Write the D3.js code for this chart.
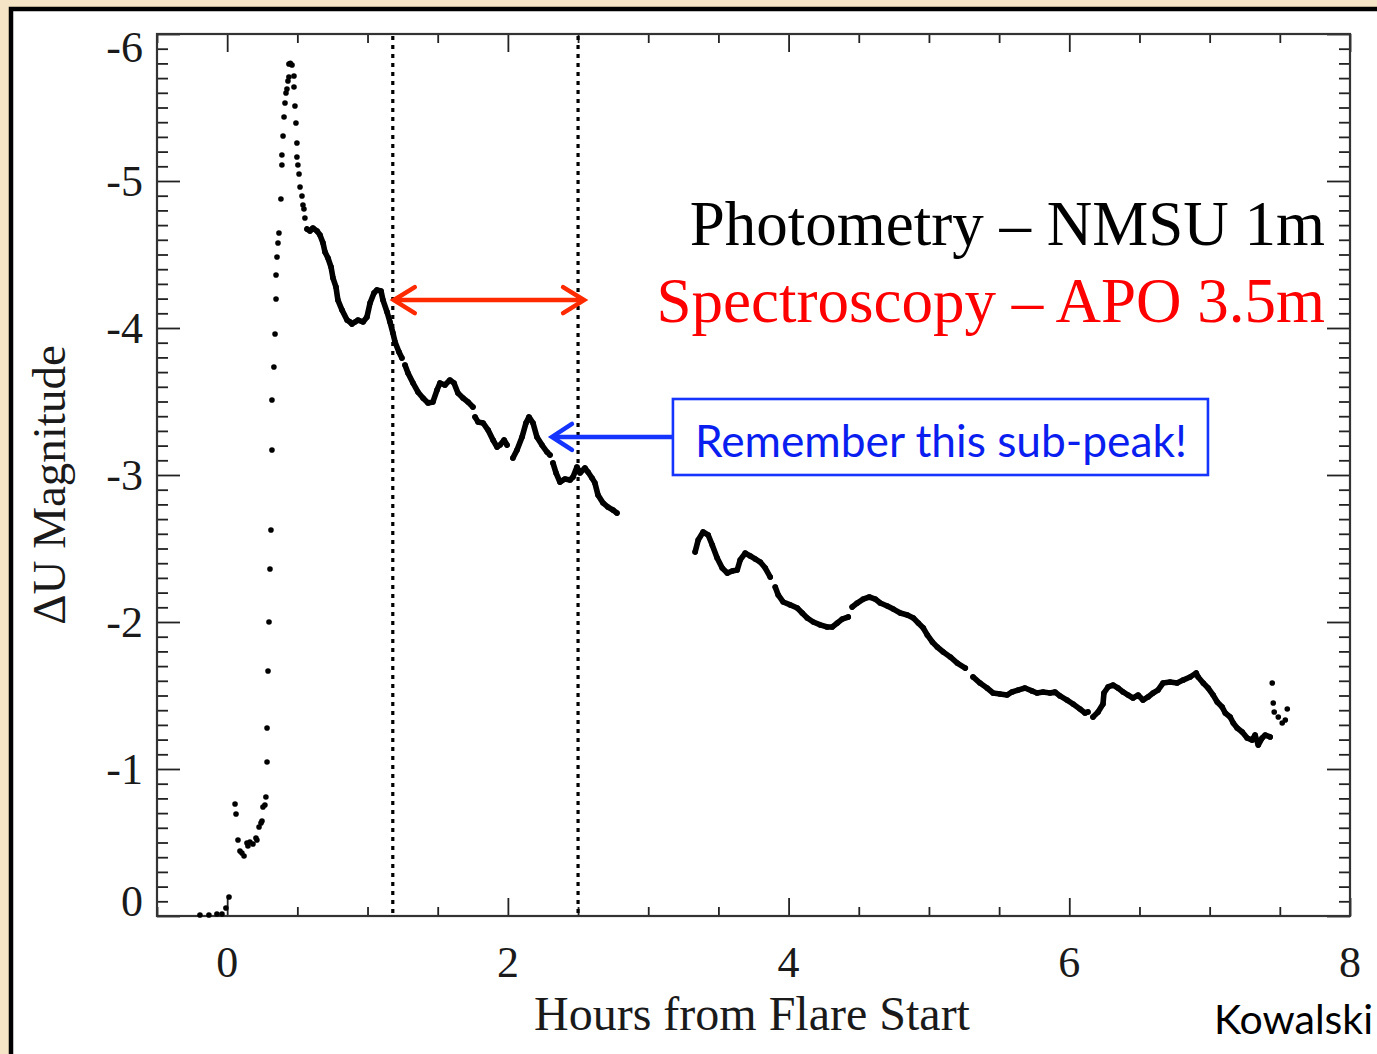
<!DOCTYPE html>
<html>
<head>
<meta charset="utf-8">
<script src="https://cdn.jsdelivr.net/npm/d3@7"></script>
<style>
  html, body { margin: 0; padding: 0; background: #f5e5c6; }
  svg { display: block; }
</style>
</head>
<body>
<svg id="chart" width="1377" height="1054"></svg>
<script>
// ---- Light curve: U-band magnitude change vs. hours from flare start ----
// Each array is [hours, deltaU]; separate arrays are separate observing runs / gaps.
const preFlare = [[-0.194,-0.007],[-0.130,-0.007],[-0.073,-0.014],[-0.037,-0.014],[-0.009,-0.054],[0.013,-0.129]];

const impulsivePhase = [
  [0.056,-0.762],[0.063,-0.694],[0.077,-0.517],[0.091,-0.442],[0.105,-0.429],[0.120,-0.408],
  [0.141,-0.497],[0.148,-0.476],[0.162,-0.503],[0.184,-0.490],[0.205,-0.531],[0.212,-0.517],
  [0.227,-0.605],[0.241,-0.633],[0.248,-0.646],[0.255,-0.741],[0.269,-0.755],[0.276,-0.810],
  [0.284,-1.048],[0.284,-1.279],[0.291,-1.667],[0.298,-2.000],[0.305,-2.361],[0.312,-2.626],
  [0.319,-3.170],[0.319,-3.510],[0.333,-3.735],[0.341,-3.959],[0.348,-4.197],[0.348,-4.361],
  [0.355,-4.483],[0.362,-4.578],[0.369,-4.646],[0.383,-4.878],[0.390,-5.109],[0.390,-5.177],
  [0.398,-5.306],[0.405,-5.435],[0.412,-5.531],[0.419,-5.599],[0.426,-5.626],[0.433,-5.680],
  [0.440,-5.707],[0.440,-5.796],[0.450,-5.800],[0.462,-5.789],[0.476,-5.714],[0.476,-5.639],
  [0.483,-5.510],[0.490,-5.395],[0.497,-5.259],[0.497,-5.163],[0.504,-5.109],[0.512,-5.048],
  [0.519,-4.959],[0.533,-4.898],[0.540,-4.837],[0.547,-4.810],[0.554,-4.748]
];

const decay1 = [
  [0.569,-4.673],[0.590,-4.660],[0.611,-4.680],[0.640,-4.660],[0.661,-4.633],[0.683,-4.578],
  [0.697,-4.517],[0.718,-4.476],[0.740,-4.415],[0.754,-4.340],[0.775,-4.279],[0.789,-4.190],
  [0.818,-4.122],[0.854,-4.054],[0.875,-4.041],[0.889,-4.027],[0.911,-4.041],[0.932,-4.054],
  [0.968,-4.041],[0.996,-4.075],[1.018,-4.170],[1.046,-4.238],[1.067,-4.259],[1.096,-4.252],
  [1.110,-4.190],[1.139,-4.109],[1.160,-4.041],[1.181,-3.966],[1.196,-3.905],[1.224,-3.837],
  [1.245,-3.796]
];
const decay2 = [
  [1.267,-3.748],[1.288,-3.694],[1.324,-3.626],[1.359,-3.565],[1.395,-3.524],[1.431,-3.490],
  [1.466,-3.497],[1.495,-3.578],[1.516,-3.626],[1.552,-3.612],[1.587,-3.646],[1.616,-3.626],
  [1.644,-3.558],[1.680,-3.524],[1.716,-3.497],[1.751,-3.463]
];
const decay3 = [
  [1.766,-3.395],[1.787,-3.361],[1.823,-3.354],[1.859,-3.306],[1.894,-3.238],[1.923,-3.190],
  [1.944,-3.204],[1.973,-3.238],[1.994,-3.204]
];
const decay4 = [
  [2.036,-3.116],[2.065,-3.170],[2.101,-3.259],[2.129,-3.354],[2.150,-3.395],[2.179,-3.354],
  [2.207,-3.259],[2.243,-3.204],[2.279,-3.156],[2.300,-3.136]
];
const decay5 = [
  [2.321,-3.082],[2.343,-3.014],[2.371,-2.952],[2.407,-2.973],[2.443,-2.966],[2.464,-2.986],
  [2.492,-3.054],[2.514,-3.014],[2.549,-3.048],[2.571,-3.020],[2.599,-2.980],[2.620,-2.946],
  [2.642,-2.864],[2.678,-2.810],[2.713,-2.782],[2.749,-2.762],[2.777,-2.741]
];
const late1 = [
  [3.334,-2.476],[3.356,-2.558],[3.391,-2.612],[3.427,-2.592],[3.456,-2.524],[3.491,-2.435],
  [3.527,-2.367],[3.563,-2.333],[3.598,-2.347],[3.634,-2.354],[3.655,-2.422],[3.691,-2.469],
  [3.727,-2.449],[3.762,-2.429],[3.798,-2.408],[3.834,-2.367],[3.869,-2.306]
];
const late2 = [
  [3.905,-2.238],[3.926,-2.184],[3.962,-2.136],[4.012,-2.116],[4.062,-2.095],[4.097,-2.061],
  [4.133,-2.027],[4.176,-2.000],[4.226,-1.980],[4.275,-1.966],[4.311,-1.966],[4.347,-1.993],
  [4.382,-2.020],[4.425,-2.034]
];
const late3 = [
  [4.453,-2.102],[4.489,-2.129],[4.532,-2.156],[4.575,-2.170],[4.617,-2.156],[4.653,-2.129],
  [4.703,-2.109],[4.746,-2.088],[4.796,-2.061],[4.846,-2.048],[4.889,-2.027],[4.924,-1.993],
  [4.960,-1.959],[4.988,-1.912],[5.024,-1.864],[5.059,-1.830],[5.102,-1.796],[5.152,-1.762],
  [5.202,-1.721],[5.259,-1.687]
];
const late4 = [
  [5.314,-1.626],[5.364,-1.585],[5.414,-1.551],[5.457,-1.517],[5.506,-1.510],[5.556,-1.503],
  [5.592,-1.524],[5.635,-1.537],[5.684,-1.551],[5.734,-1.531],[5.770,-1.517],[5.813,-1.524],
  [5.863,-1.517],[5.898,-1.524],[5.934,-1.497],[5.984,-1.469],[6.027,-1.442],[6.076,-1.408],
  [6.112,-1.381],[6.133,-1.388]
];
const late5 = [
  [6.169,-1.354],[6.205,-1.388],[6.240,-1.442],[6.247,-1.517],[6.276,-1.558],[6.312,-1.571],
  [6.347,-1.551],[6.383,-1.524],[6.419,-1.503],[6.454,-1.483],[6.490,-1.503],[6.525,-1.469],
  [6.561,-1.490],[6.597,-1.517],[6.632,-1.537],[6.668,-1.585],[6.718,-1.592],[6.768,-1.585],
  [6.811,-1.605],[6.861,-1.626],[6.904,-1.653],[6.918,-1.626],[6.954,-1.585],[6.989,-1.551],
  [7.025,-1.503],[7.054,-1.456],[7.089,-1.422],[7.111,-1.381],[7.146,-1.354],[7.168,-1.313],
  [7.196,-1.279],[7.232,-1.252],[7.267,-1.211],[7.303,-1.197],[7.324,-1.231],[7.346,-1.163],
  [7.374,-1.211],[7.396,-1.231],[7.431,-1.218]
];
const tail = [
  [7.446,-1.585],[7.453,-1.449],[7.460,-1.388],[7.489,-1.354],[7.517,-1.313],[7.539,-1.333],[7.553,-1.408]
];

// Sparsely sampled runs are drawn as dots only; densely sampled runs as a dotted trace.
const sparseRuns = [preFlare, impulsivePhase, tail];
const denseRuns = [decay1, decay2, decay3, decay4, decay5, late1, late2, late3, late4, late5];

// ---- Axes ----
const xMajorTicks = [0, 2, 4, 6, 8];
const xMinorTicks = [-0.5, 0.5, 1, 1.5, 2.5, 3, 3.5, 4.5, 5, 5.5, 6.5, 7, 7.5];
const yMajorTicks = [0, -1, -2, -3, -4, -5, -6];
const yMinorTicks = d3.range(1, 60).map(i => -i / 10).filter(v => Math.abs(v * 10) % 10 !== 0);

// Spectrum exposure window (hours) and annotations
const spectrumWindow = [1.18, 2.50];
const windowArrow = { from: 1.18, to: 2.55, mag: -4.19 };
const subPeakArrow = { tip: [2.307, -3.259] };
const noteBox = { x0: 3.176, x1: 6.988, top: -3.517, bottom: -3.0, text: "Remember this sub-peak!" };
const legendLines = [
  { text: "Photometry \u2013 NMSU 1m", color: "#000000" },
  { text: "Spectroscopy \u2013 APO 3.5m", color: "#ff0000" }
];

const W = 1377, H = 1054;
const plot = { left: 157, right: 1350, top: 34, bottom: 916 };
const svg = d3.select("#chart");

// Slide background and framed white panel
svg.append("rect").attr("width", W).attr("height", H).attr("fill", "#f5e5c6");
svg.append("rect").attr("x", 11).attr("y", 9).attr("width", W + 30).attr("height", H + 30)
  .attr("fill", "#ffffff").attr("stroke", "#000").attr("stroke-width", 4.5);

const x = d3.scaleLinear().domain([-0.5, 8]).range([plot.left, plot.right]);
const y = d3.scaleLinear().domain([0, -6]).range([plot.bottom, plot.top]);

const tickColor = "#222";
function drawTicks(axis, transform) {
  const g = svg.append("g").attr("transform", transform).call(axis);
  g.select(".domain").remove();
  g.selectAll(".tick line").attr("stroke", tickColor).attr("stroke-width", 1.8);
  g.selectAll(".tick text").remove();
  return g;
}
drawTicks(d3.axisBottom(x).tickValues(xMajorTicks).tickSize(-18), `translate(0,${plot.bottom})`);
drawTicks(d3.axisBottom(x).tickValues(xMinorTicks).tickSize(-9), `translate(0,${plot.bottom})`);
drawTicks(d3.axisTop(x).tickValues(xMajorTicks).tickSize(-18), `translate(0,${plot.top})`);
drawTicks(d3.axisTop(x).tickValues(xMinorTicks).tickSize(-9), `translate(0,${plot.top})`);
drawTicks(d3.axisLeft(y).tickValues(yMajorTicks).tickSize(-23), `translate(${plot.left},0)`);
drawTicks(d3.axisLeft(y).tickValues(yMinorTicks).tickSize(-11), `translate(${plot.left},0)`);
drawTicks(d3.axisRight(y).tickValues(yMajorTicks).tickSize(-23), `translate(${plot.right},0)`);
drawTicks(d3.axisRight(y).tickValues(yMinorTicks).tickSize(-11), `translate(${plot.right},0)`);

svg.append("rect")
  .attr("x", plot.left).attr("y", plot.top)
  .attr("width", plot.right - plot.left).attr("height", plot.bottom - plot.top)
  .attr("fill", "none").attr("stroke", "#333").attr("stroke-width", 2.2);

const serif = "'Liberation Serif', 'Times New Roman', serif";
const sans = "Lato, 'Open Sans', sans-serif";

// Tick labels (end labels kept inside the axis span)
svg.append("g").selectAll("text").data(yMajorTicks).join("text")
  .attr("x", plot.left - 14)
  .attr("y", d => Math.max(plot.top + 28, Math.min(y(d) + 15, plot.bottom)))
  .attr("text-anchor", "end")
  .attr("font-family", serif).attr("font-size", 44).attr("fill", "#1a1a1a")
  .text(d => String(d));

svg.append("g").selectAll("text").data(xMajorTicks).join("text")
  .attr("x", d => x(d)).attr("y", 977)
  .attr("text-anchor", "middle")
  .attr("font-family", serif).attr("font-size", 44).attr("fill", "#1a1a1a")
  .text(d => String(d));

// Axis titles
svg.append("text")
  .attr("transform", "translate(65,485) rotate(-90)")
  .attr("text-anchor", "middle")
  .attr("font-family", serif).attr("font-size", 47).attr("fill", "#1a1a1a")
  .text("\u0394U Magnitude");
svg.append("text")
  .attr("x", 752).attr("y", 1030)
  .attr("text-anchor", "middle")
  .attr("font-family", serif).attr("font-size", 48).attr("fill", "#1a1a1a")
  .text("Hours from Flare Start");

// Spectrum window boundaries
svg.append("g").selectAll("line").data(spectrumWindow).join("line")
  .attr("x1", d => x(d)).attr("x2", d => x(d))
  .attr("y1", plot.top + 2).attr("y2", plot.bottom)
  .attr("stroke", "#000").attr("stroke-width", 3.2).attr("stroke-dasharray", "4,5");

// Light curve
const plotArea = svg.append("g");
const line = d3.line().x(d => x(d[0])).y(d => y(d[1])).curve(d3.curveLinear);
plotArea.selectAll("path.run").data(denseRuns).join("path")
  .attr("class", "run")
  .attr("d", line)
  .attr("fill", "none").attr("stroke", "#000").attr("stroke-width", 5.6)
  .attr("stroke-linejoin", "round").attr("stroke-linecap", "round");
plotArea.selectAll("circle").data(denseRuns.flat().concat(sparseRuns.flat())).join("circle")
  .attr("cx", d => x(d[0])).attr("cy", d => y(d[1])).attr("r", 2.8).attr("fill", "#000");

// Double-headed arrow across the spectrum window
function chevron(g, tipX, tipY, dir, color, len, half, width) {
  g.append("polyline")
    .attr("points", `${tipX + dir * len},${tipY - half} ${tipX},${tipY} ${tipX + dir * len},${tipY + half}`)
    .attr("fill", "none").attr("stroke", color).attr("stroke-width", width)
    .attr("stroke-linecap", "round").attr("stroke-linejoin", "miter");
}
const red = "#ff2a00";
const ra = svg.append("g");
const ay = y(windowArrow.mag);
ra.append("line").attr("x1", x(windowArrow.from) + 1).attr("x2", x(windowArrow.to) - 1)
  .attr("y1", ay).attr("y2", ay).attr("stroke", red).attr("stroke-width", 4.5);
chevron(ra, x(windowArrow.from) + 1, ay, 1, red, 21, 13, 4.5);
chevron(ra, x(windowArrow.to) - 1, ay, -1, red, 21, 13, 4.5);

// Note box with arrow pointing at the sub-peak
const blue = "#1535ff";
const bx0 = x(noteBox.x0), bx1 = x(noteBox.x1), by0 = y(noteBox.top), by1 = y(noteBox.bottom);
svg.append("rect").attr("x", bx0).attr("y", by0).attr("width", bx1 - bx0).attr("height", by1 - by0)
  .attr("fill", "#fff").attr("stroke", blue).attr("stroke-width", 2.6);
const tipX = x(subPeakArrow.tip[0]), tipY = y(subPeakArrow.tip[1]);
const ba = svg.append("g");
ba.append("line").attr("x1", tipX + 2).attr("x2", bx0).attr("y1", tipY).attr("y2", tipY)
  .attr("stroke", blue).attr("stroke-width", 4.5);
chevron(ba, tipX + 1, tipY, 1, blue, 20, 13, 4.5);

const note = svg.append("text")
  .attr("x", bx0 + 22).attr("y", by1 - 18)
  .attr("font-family", sans).attr("font-size", 40).attr("fill", "#0a1ef0")
  .text(noteBox.text);
// size the note so it spans the box interior
const noteWidth = (bx1 - bx0) - 43;
const measured = note.node().getComputedTextLength();
note.attr("font-size", 40 * noteWidth / measured);

// Legend lines
svg.append("g").selectAll("text").data(legendLines).join("text")
  .attr("x", 1325).attr("y", (d, i) => 245 + i * 77)
  .attr("text-anchor", "end")
  .attr("font-family", serif).attr("font-size", 63)
  .attr("fill", d => d.color)
  .text(d => d.text);

// Credit
svg.append("text").attr("x", 1214).attr("y", 1034)
  .attr("font-family", sans).attr("font-size", 41).attr("fill", "#000")
  .text("Kowalski");
</script>
</body>
</html>
